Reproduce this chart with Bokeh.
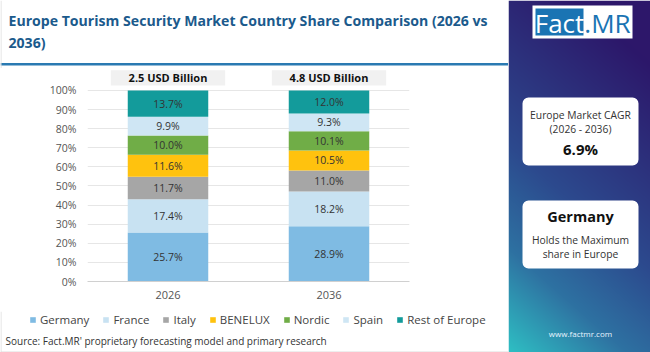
import numpy as np
from bokeh.plotting import figure
from bokeh.layouts import row, column
from bokeh.models import (ColumnDataSource, FactorRange, Range1d, FixedTicker, PrintfTickFormatter,
                          Legend, LegendItem, BoxAnnotation)
from bokeh.core.properties import value
from bokeh.embed import file_html
from bokeh.resources import INLINE

# ---------------- data ----------------
years = ["2026", "2036"]
segments = ["Germany", "France", "Italy", "BENELUX", "Nordic", "Spain", "Rest of Europe"]
germany = [25.7, 28.9]
france = [17.4, 18.2]
italy = [11.7, 11.0]
benelux = [11.6, 10.5]
nordic = [10.0, 10.1]
spain = [9.9, 9.3]
rest_of_europe = [13.7, 12.0]
market_size = ["2.5 USD Billion", "4.8 USD Billion"]
y_ticks = [0, 10, 20, 30, 40, 50, 60, 70, 80, 90, 100]
cagr_text = "6.9%"
leader = "Germany"

colors = ["#7fbbe3", "#c8e2f2", "#a6a6a6", "#ffc20e", "#70ad47", "#cfe6f4", "#139b9b"]
FONT = "Open Sans"

series = [germany, france, italy, benelux, nordic, spain, rest_of_europe]
data = {"year": years}
for name, vals in zip(segments, series):
    data[name] = vals
source = ColumnDataSource(data)

CW, CH = 508, 352
TOP_H, MID_H = 68, 243
BOT_H = CH - TOP_H - MID_H


def canvas_fig(w, h):
    fg = figure(x_range=Range1d(0, w), y_range=Range1d(0, h), width=w, height=h,
                output_backend="svg", toolbar_location=None, x_axis_type=None, y_axis_type=None,
                min_border=0)
    fg.outline_line_color = None
    fg.grid.visible = False
    fg.background_fill_color = "white"
    fg.border_fill_color = "white"
    fg.frame_align = False
    return fg


# ---------------- title strip ----------------
t = canvas_fig(CW, TOP_H)
title_lines = ["Europe Tourism Security Market Country Share Comparison (2026 vs", "2036)"]
t.text(x=[8, 8], y=[TOP_H - 20, TOP_H - 42], text=title_lines, text_baseline="middle",
       text_font=value(FONT), text_font_style="bold", text_font_size="14.1px",
       text_color="#1b5a8c")
t.quad(left=[0], right=[CW], top=[TOP_H - 62.5], bottom=[TOP_H - 65], fill_color="#2a7ab2",
       line_color=None)
t.quad(left=[0], right=[1], top=[TOP_H], bottom=[0], fill_color="#dddddd", line_color=None)

# ---------------- chart ----------------
p = figure(x_range=FactorRange(*years), y_range=Range1d(0, 111.5),
           width=CW, height=MID_H, output_backend="svg", toolbar_location=None,
           min_border_left=87, min_border_right=99, min_border_top=0, min_border_bottom=30)
p.frame_align = False
p.outline_line_color = None
p.background_fill_color = "white"
p.border_fill_color = "white"

renderers = p.vbar_stack(segments, x="year", width=0.5, source=source,
                         color=colors, line_color=None)

lx, ly, lt = [], [], []
for j, yr in enumerate(years):
    base = 0.0
    for vals in series:
        v = vals[j]
        lx.append(yr)
        ly.append(base + v / 2)
        lt.append(f"{v:.1f}%")
        base += v
p.text(x=lx, y=ly, text=lt, text_align="center", text_baseline="middle",
       text_font=value(FONT), text_font_size="10.5px", text_color="#333333")

p.rect(x=years, y=[106.6, 106.6], width=0.71, height=7.9, fill_color="#f1f1f1", line_color=None)
p.text(x=years, y=[106.6, 106.6], text=market_size, text_align="center", text_baseline="middle",
       text_font=value(FONT), text_font_style="bold", text_font_size="11px", text_color="#111111")

p.yaxis.ticker = FixedTicker(ticks=y_ticks)
p.yaxis.formatter = PrintfTickFormatter(format="%d%%")
p.yaxis.axis_line_color = None
p.yaxis.major_tick_line_color = None
p.yaxis.minor_tick_line_color = None
p.yaxis.major_tick_out = 0
p.yaxis.major_label_text_font = FONT
p.yaxis.major_label_text_font_size = "10.5px"
p.yaxis.major_label_text_color = "#555555"
p.yaxis.major_label_standoff = 11

p.xaxis.axis_line_color = "#d0d0d0"
p.xaxis.major_tick_line_color = None
p.xaxis.minor_tick_line_color = None
p.xaxis.major_tick_out = 0
p.xaxis.major_label_text_font = FONT
p.xaxis.major_label_text_font_size = "11px"
p.xaxis.major_label_text_color = "#555555"
p.xaxis.major_label_standoff = 9

p.xgrid.grid_line_color = None
p.ygrid.grid_line_color = "#e6e6e6"
p.ygrid.ticker = FixedTicker(ticks=y_ticks)

# ---------------- footer: legend + source ----------------
f = canvas_fig(CW, BOT_H)
dummy = [f.rect(x=[np.nan], y=[np.nan], width=1, height=1, fill_color=c, line_color=None)
         for c in colors]
legend = Legend(items=[LegendItem(label=s, renderers=[r]) for s, r in zip(segments, dummy)],
                orientation="horizontal", location=(29, BOT_H - 16), glyph_width=7, glyph_height=7,
                label_height=12, label_standoff=4, spacing=13, padding=0, margin=0,
                border_line_color=None, background_fill_alpha=0,
                label_text_font=FONT, label_text_font_size="11.5px", label_text_color="#444444")
f.add_layout(legend)
f.text(x=[5], y=[BOT_H - 29], text=["Source: Fact.MR' proprietary forecasting model and primary research"],
       text_baseline="middle", text_font=value(FONT), text_font_size="10px", text_color="#333333")
f.quad(left=[0], right=[1], top=[BOT_H], bottom=[0], fill_color="#dddddd", line_color=None)
f.quad(left=[0], right=[CW], top=[1], bottom=[0], fill_color="#dddddd", line_color=None)

# ---------------- side panel ----------------
PW = 142
q = figure(x_range=Range1d(0, PW), y_range=Range1d(0, CH), width=PW, height=CH,
           output_backend="svg", toolbar_location=None, x_axis_type=None, y_axis_type=None,
           min_border=0)
q.frame_align = False
q.outline_line_color = None
q.grid.visible = False


def Y(y):
    return CH - y


stops_t = [0.0, 0.5, 0.75, 1.0]
stops_c = [(0x2d, 0x17, 0x6a), (0x2c, 0x4a, 0x8e), (0x2e, 0x72, 0xa2), (0x2f, 0xc0, 0xc4)]
yy, xx = np.mgrid[0:CH, 0:PW]
ytop = CH - 1 - yy
tt = np.clip(0.85 * ytop / CH + 0.3 * (1 - xx / PW) - 0.15, 0, 1)
img = np.zeros((CH, PW), dtype=np.uint32)
view = img.view(dtype=np.uint8).reshape((CH, PW, 4))
for k in range(3):
    view[:, :, k] = np.interp(tt, stops_t, [c[k] for c in stops_c]).astype(np.uint8)
view[:, :, 3] = 255
q.image_rgba(image=[img], x=0, y=0, dw=PW, dh=CH)

q.quad(left=[24], right=[124], top=[Y(5)], bottom=[Y(38)], fill_color="white", line_color=None)
q.quad(left=[27], right=[75], top=[Y(8)], bottom=[Y(35)], fill_color="#1a74b3", line_color=None)
q.text(x=[51], y=[Y(22)], text=["Fact"], text_align="center", text_baseline="middle",
       text_font=value(FONT), text_font_size="26px", text_color="white")
q.text(x=[99], y=[Y(22)], text=[".MR"], text_align="center", text_baseline="middle",
       text_font=value(FONT), text_font_size="26px", text_color="#1a74b3")

for top, bot in [(97, 165), (200, 268)]:
    q.add_layout(BoxAnnotation(left=14, right=130, top=Y(top), bottom=Y(bot), fill_color="white",
                               fill_alpha=1, line_color=None, border_radius=6))


def ptext(y, s, size, bold=False, color="#333333"):
    q.text(x=[72], y=[Y(y)], text=[s], text_align="center", text_baseline="middle",
           text_font=value(FONT), text_font_size=size,
           text_font_style="bold" if bold else "normal", text_color=color, level="overlay")


ptext(114, "Europe Market CAGR", "10.3px")
ptext(128, "(2026 - 2036)", "10.3px")
ptext(148, cagr_text, "15px", bold=True, color="#111111")
ptext(216, leader, "14.5px", bold=True, color="#111111")
ptext(239, "Holds the Maximum", "10.3px")
ptext(253, "share in Europe", "10.3px")
ptext(333, "www.factmr.com", "8px", color="#e8f4ff")

layout = row(column(t, p, f, spacing=0), q, spacing=0)
open("out.html", "w").write(file_html(layout, INLINE))
